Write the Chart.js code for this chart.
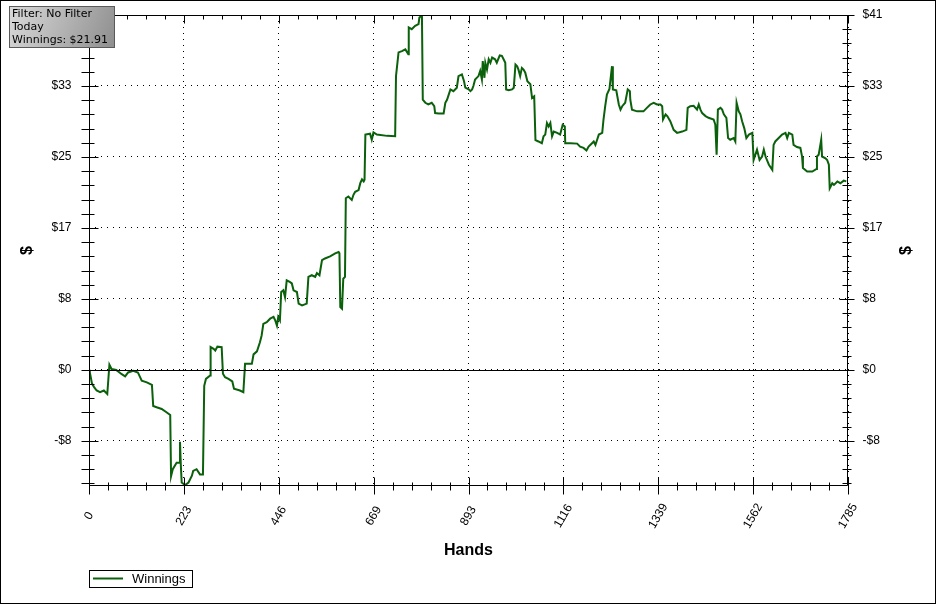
<!DOCTYPE html>
<html lang="en">
<head>
<meta charset="UTF-8">
<title>Winnings</title>
<script src="https://cdn.jsdelivr.net/npm/chart.js"></script>
<style>
    html, body { margin: 0; padding: 0; background: #fff; }
    #wrap { width: 936px; height: 604px; }
</style>
</head>
<body>
<div id="wrap"><canvas id="winChart" width="936" height="604"></canvas></div>
<script>
// hands played vs running winnings ($)
const hands = [0, 2, 7, 12, 18, 26, 35, 43, 48, 53, 64, 77, 85, 92, 104, 115, 124, 136, 148, 151, 159, 171, 183, 191,
    193, 197, 206, 212, 214, 216, 218, 226, 234, 242, 245, 253, 261, 268, 271, 275, 285, 286, 293, 297, 302, 312,
    315, 320, 328, 337, 341, 355, 363, 367, 383, 387, 395, 402, 406, 410, 418, 426, 434, 438, 442, 445, 449,
    452, 457, 461, 465, 473, 477, 481, 489, 493, 501, 512, 516, 524, 532, 536, 542, 548, 555, 567, 579, 587, 589,
    591, 595, 598, 602, 604, 610, 618, 622, 626, 634, 638, 642, 646, 648, 650, 661, 665, 669, 677, 701, 720,
    722, 728, 736, 744, 751, 752, 759, 767, 775, 777, 783, 785, 791, 798, 806, 812, 814, 822, 834, 838, 842, 846,
    850, 857, 865, 869, 877, 882, 885, 893, 897, 901, 904, 908, 916, 920, 924, 926, 930, 932, 936, 940, 944, 948,
    955, 959, 966, 971, 975, 979, 981, 987, 995, 999, 1003, 1007, 1010, 1014, 1018, 1022, 1026, 1031, 1038, 1042,
    1047, 1050, 1057, 1065, 1069, 1073, 1077, 1081, 1085, 1089, 1093, 1101, 1108, 1114, 1119, 1120, 1132, 1148,
    1155, 1163, 1170, 1175, 1183, 1187, 1191, 1195, 1199, 1207, 1210, 1214, 1218, 1224, 1230, 1232, 1240, 1246,
    1250, 1254, 1261, 1267, 1272, 1273, 1277, 1289, 1304, 1312, 1320, 1328, 1336, 1344, 1348, 1350, 1356, 1360,
    1367, 1375, 1383, 1395, 1405, 1408, 1414, 1422, 1430, 1434, 1438, 1442, 1450, 1457, 1469, 1473, 1476, 1479,
    1485, 1489, 1493, 1499, 1503, 1508, 1516, 1520, 1523, 1528, 1532, 1536, 1541, 1546, 1552, 1560, 1563, 1571,
    1577, 1583, 1587, 1591, 1599, 1607, 1610, 1614, 1622, 1630, 1638, 1642, 1646, 1654, 1657, 1665, 1673, 1677,
    1679, 1689, 1701, 1711, 1712, 1716, 1722, 1724, 1732, 1736, 1740, 1742, 1748, 1752, 1760, 1767, 1775, 1781];
const winnings = [0, -0.3, -1.6, -2.0, -2.4, -2.6, -2.4, -2.8, 0.6, 0.1, 0.0, -0.5, -0.75, -0.3, -0.1, -0.3, -1.25, -1.45, -1.75, -4.2, -4.35, -4.55, -4.95, -5.25,
    -12.35, -11.55, -10.8, -10.8, -8.35, -11.15, -13.1, -13.4, -13.1, -12.3, -11.75, -11.55, -12.15, -12.15, -1.85, -1.05, -0.65, 2.65, 2.45, 2.25, 2.7, 2.65,
    -0.45, -0.85, -1.05, -1.35, -2.2, -2.4, -2.6, 0.7, 0.7, 1.8, 2.15, 3.2, 4.0, 5.35, 5.55, 5.95, 6.15, 5.75, 5.15, 6.15, 5.75,
    9.05, 9.25, 8.45, 10.4, 10.2, 10.05, 9.25, 9.05, 7.7, 7.5, 7.7, 10.8, 11.0, 10.8, 11.25, 11.0, 12.75, 12.95, 13.2, 13.55, 13.7, 13.55,
    7.3, 7.1, 10.6, 10.8, 19.95, 20.15, 19.75, 20.35, 20.7, 20.9, 21.7, 22.15, 21.9, 22.1, 27.35, 27.45, 26.75, 27.6, 27.35, 27.2, 27.15,
    34.15, 36.9, 37.05, 37.25, 36.7, 39.8, 39.6, 40.0, 40.2, 40.95, 41.2, 31.4, 31.05, 30.85, 31.05, 30.65, 29.85, 29.8, 29.8, 31.05, 31.4, 32.0,
    32.6, 32.4, 32.8, 34.15, 34.35, 33.55, 32.8, 32.6, 32.4, 32.6, 33.0, 33.75, 34.15, 34.75, 33.75, 35.9, 33.95, 35.7, 34.9, 36.1, 35.7, 36.3,
    36.1, 35.7, 36.55, 36.5, 36.1, 35.7, 32.6, 32.5, 32.6, 32.8, 35.5, 35.3, 34.9, 34.15, 35.1, 34.9, 34.55, 33.55, 33.2, 31.6,
    31.8, 26.7, 26.55, 26.35, 27.15, 27.35, 28.7, 28.3, 28.7, 27.15, 27.7, 27.55, 27.35, 28.5, 28.3, 26.35, 26.35, 26.3,
    25.95, 25.8, 25.5, 25.95, 26.35, 26.55, 26.15, 26.75, 27.35, 27.55, 29.1, 30.65, 32.0, 32.65, 35.3, 32.6, 32.5, 30.85,
    30.25, 30.65, 31.05, 32.6, 32.4, 31.4, 30.25, 30.05, 30.05, 30.45, 30.85, 31.05, 30.85, 30.85, 30.65, 29.1, 29.7, 29.5,
    28.9, 27.9, 27.55, 27.7, 27.9, 30.45, 30.65, 30.7, 30.25, 30.85, 30.25, 29.85, 29.5, 29.3, 29.1, 28.5, 25.0, 30.25,
    30.45, 30.25, 29.7, 29.3, 26.95, 26.75, 26.95, 26.55, 31.05, 30.05, 29.7, 28.9, 28.1, 26.95, 27.35, 27.55, 24.4, 25.6,
    24.4, 24.8, 25.6, 24.8, 23.85, 23.25, 26.15, 26.55, 26.95, 27.35, 27.55, 26.95, 27.55, 27.35, 26.15, 25.9, 25.8, 24.8,
    23.45, 23.05, 23.05, 23.35, 24.8, 25.0, 26.75, 24.8, 24.6, 24.4, 23.85, 21.1, 21.7, 21.5, 21.9, 21.7, 22.0, 21.91];

const xTickValues = [0, 223.125, 446.25, 669.375, 892.5, 1115.625, 1338.75, 1561.875, 1785];
const xTickLabels = ['0', '223', '446', '669', '893', '1116', '1339', '1562', '1785'];
const yTickValues = [-8.25, 0, 8.25, 16.5, 24.75, 33, 41.25];
const yTickLabels = ['-$8', '$0', '$8', '$17', '$25', '$33', '$41'];
const infoLines = ['Filter: No Filter', 'Today', 'Winnings: $21.91'];

const lineColor = '#0b600b';

// axes frame, crossing ticks, labels, info box and legend
const framePlugin = {
    id: 'frame',
    beforeDraw(chart) {
        const ctx = chart.ctx;
        ctx.save();
        ctx.fillStyle = '#fff';
        ctx.fillRect(0, 0, chart.width, chart.height);
        ctx.restore();
    },
    afterDraw(chart) {
        const { ctx, chartArea: a, scales: { x, y } } = chart;
        const L = Math.round(a.left) + 0.5, R = Math.round(a.right) - 0.5;
        const T = Math.round(a.top) + 0.5, B = Math.round(a.bottom) - 0.5;
        ctx.save();
        ctx.strokeStyle = '#000';
        ctx.lineWidth = 1;
        ctx.setLineDash([]);

        const seg = (x1, y1, x2, y2) => { ctx.beginPath(); ctx.moveTo(x1, y1); ctx.lineTo(x2, y2); ctx.stroke(); };

        // zero line
        const y0 = Math.round(y.getPixelForValue(0)) + 0.5;
        seg(L, y0, R, y0);

        // frame
        seg(L, T, R, T); seg(L, B, R, B); seg(L, T, L, B); seg(R, T, R, B);

        // y ticks (5 subdivisions)
        const ys = (yTickValues[1] - yTickValues[0]) / 5;
        for (let k = -10; k < 60; k++) {
            const v = yTickValues[0] + k * ys;
            if (v < y.min - 1e-6 || v > y.max + 1e-6) continue;
            const p = Math.round(y.getPixelForValue(v)) + 0.5;
            const major = k % 5 === 0;
            seg(L - 8, p, L + (major ? 9 : 5), p);
            seg(R - (major ? 8 : 5), p, R + (major ? 7 : 4), p);
        }
        // x ticks
        const xs = (xTickValues[1] - xTickValues[0]) / 5;
        for (let k = 0; k <= 40; k++) {
            const v = k * xs;
            if (v > x.max + 1e-6) continue;
            const p = Math.round(x.getPixelForValue(v)) + 0.5;
            const major = k % 5 === 0;
            seg(p, B - (major ? 8 : 3), p, B + (major ? 9 : 5));
            seg(p, T, p, T + (major ? 8 : 4));
        }

        // y labels
        ctx.fillStyle = '#000';
        ctx.font = '12px "Liberation Sans", Arial, sans-serif';
        ctx.textBaseline = 'middle';
        yTickValues.forEach((v, i) => {
            const p = y.getPixelForValue(v);
            ctx.textAlign = 'right';
            ctx.fillText(yTickLabels[i], L - 18, p);
            ctx.textAlign = 'left';
            ctx.fillText(yTickLabels[i], R + 15, p);
        });
        // x labels, rotated and centred under the tick
        ctx.textAlign = 'center';
        xTickValues.forEach((v, i) => {
            const p = x.getPixelForValue(v);
            ctx.save();
            ctx.translate(p, 516);
            ctx.rotate(-Math.PI / 3);
            ctx.fillText(xTickLabels[i], 0, 0);
            ctx.restore();
        });

        // axis titles
        ctx.font = 'bold 16px "Liberation Sans", Arial, sans-serif';
        ctx.fillText('Hands', (a.left + a.right) / 2, 551);
        const midY = (a.top + a.bottom) / 2;
        [28, 907].forEach(cx => {
            ctx.save();
            ctx.translate(cx, midY);
            ctx.rotate(-Math.PI / 2);
            ctx.fillText('$', 0, 0);
            ctx.restore();
        });

        // info box
        const g = ctx.createLinearGradient(9, 6, 115, 48);
        g.addColorStop(0, '#dadada');
        g.addColorStop(1, '#8e8e8e');
        ctx.fillStyle = g;
        ctx.fillRect(9, 6, 106, 42);
        ctx.strokeStyle = '#5a5a5a';
        ctx.strokeRect(9.5, 6.5, 105, 41);
        ctx.fillStyle = '#000';
        ctx.font = '11px "DejaVu Sans", Verdana, sans-serif';
        ctx.textAlign = 'left';
        infoLines.forEach((t, i) => ctx.fillText(t, 12, 14 + i * 13.3));

        // legend
        const ds = chart.data.datasets[0];
        ctx.fillStyle = '#fff';
        ctx.fillRect(89, 570, 104, 18);
        ctx.strokeStyle = '#000';
        ctx.strokeRect(89.5, 570.5, 103, 17);
        ctx.strokeStyle = ds.borderColor;
        ctx.lineWidth = 2;
        seg(93, 578.5, 123, 578.5);
        ctx.fillStyle = '#000';
        ctx.font = '13px "Liberation Sans", Arial, sans-serif';
        ctx.fillText(ds.label, 132, 579.5);

        // outer border
        ctx.lineWidth = 1;
        ctx.strokeStyle = '#000';
        ctx.strokeRect(0.5, 0.5, chart.width - 1, chart.height - 1);
        ctx.restore();
    }
};

new Chart(document.getElementById('winChart'), {
    type: 'line',
    data: {
        datasets: [{
            label: 'Winnings',
            data: hands.map((h, i) => ({ x: h, y: winnings[i] })),
            borderColor: lineColor,
            borderWidth: 2,
            pointRadius: 0,
            tension: 0,
            fill: false
        }]
    },
    options: {
        responsive: false,
        animation: false,
        devicePixelRatio: 1,
        layout: { padding: { left: 89, right: 88, top: 15, bottom: 118 } },
        plugins: { legend: { display: false }, tooltip: { enabled: false } },
        scales: {
            x: {
                type: 'linear', min: 0, max: 1785,
                afterBuildTicks: s => { s.ticks = xTickValues.map(v => ({ value: v })); },
                ticks: { display: false },
                grid: { color: '#000', lineWidth: 1, drawTicks: false },
                border: { display: false, dash: [1, 5] }
            },
            y: {
                type: 'linear', min: -13.5, max: 41.25,
                afterBuildTicks: s => { s.ticks = yTickValues.map(v => ({ value: v })); },
                ticks: { display: false },
                grid: { color: '#000', lineWidth: 1, drawTicks: false },
                border: { display: false, dash: [1, 5] }
            }
        }
    },
    plugins: [framePlugin]
});
</script>
</body>
</html>
